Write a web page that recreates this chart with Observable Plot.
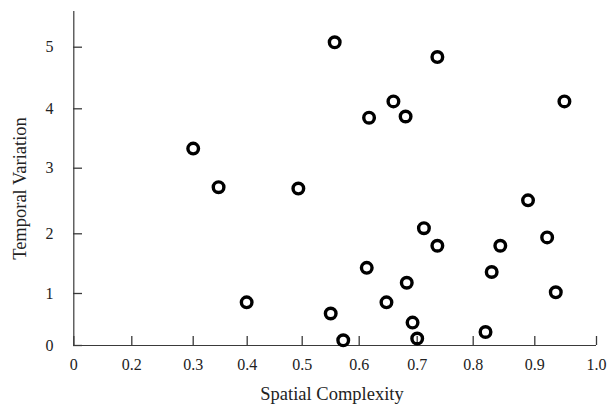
<!DOCTYPE html>
<html>
<head>
<meta charset="utf-8">
<script src="https://cdn.jsdelivr.net/npm/d3@7"></script>
<script src="https://cdn.jsdelivr.net/npm/@observablehq/plot@0.6"></script>
<style>
  body { margin: 0; background: #fff; }
  #chart svg { display: block; }
</style>
</head>
<body>
<div id="chart"></div>
<script>
// Data
const spatialComplexity = [0.30, 0.347, 0.493, 0.557, 0.736, 0.659, 0.617, 0.680, 0.948, 0.889,
  0.712, 0.736, 0.844, 0.920, 0.613, 0.830, 0.682, 0.647, 0.934, 0.550,
  0.692, 0.572, 0.700, 0.820, 0.399];
const temporalVariation = [3.33, 2.71, 2.69, 5.08, 4.84, 4.12, 3.85, 3.87, 4.12, 2.51,
  2.085, 1.80, 1.80, 1.94, 1.43, 1.36, 1.18, 0.83, 1.02, 0.615,
  0.44, 0.10, 0.135, 0.26, 0.83];
const xTicks = [0, 0.2, 0.3, 0.4, 0.5, 0.6, 0.7, 0.8, 0.9, 1.0];
const yTicks = [0, 1, 2, 3, 4, 5];
const xTitle = "Spatial Complexity";
const yTitle = "Temporal Variation";

const points = spatialComplexity.map((x, i) => ({x, y: temporalVariation[i]}));
const yTop = 5.58;
const axisColor = "#3a3a3a";

// The original axes are irregularly spaced (e.g. 0 to 0.2 is compressed),
// so each scale is piecewise-linear between its tick positions.
const xPiece = d3.scaleLinear().domain(xTicks)
  .range([73.3, 131.3, 192.7, 246.7, 301.7, 358.7, 416.7, 472.7, 534.3, 596]);
const yPiece = d3.scaleLinear().domain([...yTicks, yTop])
  .range([345, 293, 233.3, 167.7, 108.3, 46.7, 11]);

const chart = Plot.plot({
  width: 613,
  height: 405,
  marginLeft: 73,
  marginRight: 17,
  marginTop: 11,
  marginBottom: 60,
  style: {fontFamily: "'Liberation Serif', 'Times New Roman', serif", fontSize: "16px", background: "#fff", color: "#222"},
  x: {transform: xPiece, domain: [0, 613], range: [0, 613]},
  y: {transform: yPiece, domain: [0, 405], range: [0, 405]},
  marks: [
    Plot.ruleY([0], {x1: 0, x2: 1, stroke: axisColor, strokeWidth: 1.2}),
    Plot.ruleX([0], {y1: 0, y2: yTop, stroke: axisColor, strokeWidth: 1.2}),
    Plot.axisX(xTicks, {
      tickSize: -9, tickPadding: 22, stroke: axisColor, strokeWidth: 1.3,
      tickFormat: d => d === 0 ? "0" : d.toFixed(1),
      fontSize: 16, fill: "#222", label: null
    }),
    Plot.axisY(yTicks, {
      tickSize: -9, tickPadding: 29, stroke: axisColor, strokeWidth: 1.3,
      tickFormat: d => String(d),
      fontSize: 16, fill: "#222", label: null
    }),
    Plot.text([xTitle], {frameAnchor: "bottom", textAnchor: "middle", dy: 54, dx: -3, fontSize: 18.5, fill: "#222"}),
    Plot.text([yTitle], {frameAnchor: "left", textAnchor: "middle", rotate: -90, dx: -53, dy: 10, fontSize: 18.5, fill: "#222"}),
    Plot.dot(points, {x: "x", y: "y", r: 5.3, stroke: "#000", strokeWidth: 3.4, fill: "none"})
  ]
});
document.getElementById("chart").appendChild(chart);
</script>
</body>
</html>
